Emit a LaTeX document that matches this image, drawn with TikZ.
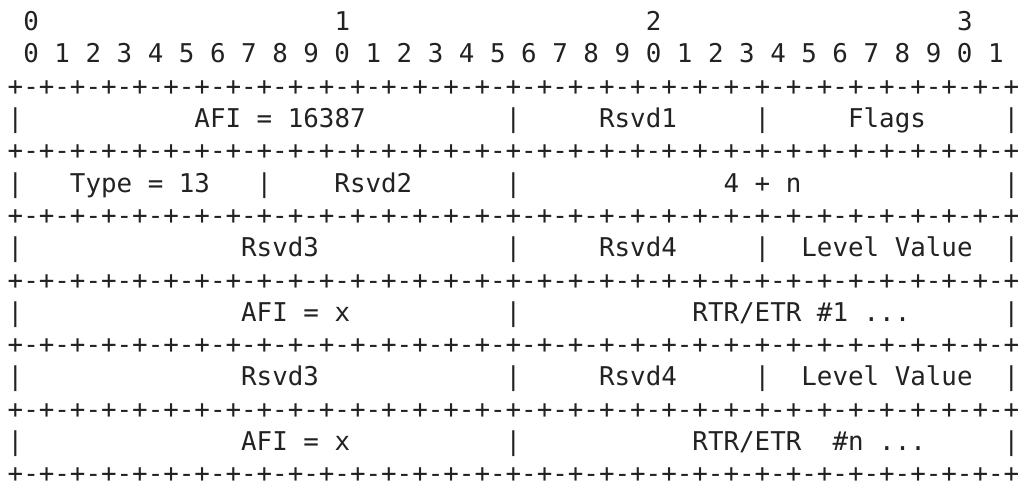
\documentclass[tikz,border=0pt]{standalone}
\usepackage{fontspec}
\newfontfamily\asciifont{DejaVu Sans Mono}
\definecolor{txt}{HTML}{222222}
\newlength\cw
\newcommand\mygap[1]{\hspace*{#1\cw}}
\newcommand\border{+-+-+-+-+-+-+-+-+-+-+-+-+-+-+-+-+-+-+-+-+-+-+-+-+-+-+-+-+-+-+-+-+}
\begin{document}
\begin{tikzpicture}[x=1pt,y=-1pt,
  row/.style={anchor=base west, inner sep=0pt, outer sep=0pt, text=txt,
    font=\asciifont\fontsize{25.85pt}{32pt}\selectfont\settowidth{\cw}{0}}]
\useasboundingbox (0,0) rectangle (1024,485);
\def\bx{7.7}
\def\by{30.6}
\def\ls{32.3}
\node[row] (l0)  at (\bx,\by+0*\ls)  {\mygap{1}0\mygap{19}1\mygap{19}2\mygap{19}3};
\node[row] (l1)  at (\bx,\by+1*\ls)  {\mygap{1}0 1 2 3 4 5 6 7 8 9 0 1 2 3 4 5 6 7 8 9 0 1 2 3 4 5 6 7 8 9 0 1};
\node[row] (l2)  at (\bx,\by+2*\ls)  {\border};
\node[row] (l3)  at (\bx,\by+3*\ls)  {|\mygap{11}AFI = 16387\mygap{9}|\mygap{5}Rsvd1\mygap{5}|\mygap{5}Flags\mygap{5}|};
\node[row] (l4)  at (\bx,\by+4*\ls)  {\border};
\node[row] (l5)  at (\bx,\by+5*\ls)  {|\mygap{3}Type = 13\mygap{3}|\mygap{4}Rsvd2\mygap{6}|\mygap{13}4 + n\mygap{13}|};
\node[row] (l6)  at (\bx,\by+6*\ls)  {\border};
\node[row] (l7)  at (\bx,\by+7*\ls)  {|\mygap{14}Rsvd3\mygap{12}|\mygap{5}Rsvd4\mygap{5}|\mygap{2}Level Value\mygap{2}|};
\node[row] (l8)  at (\bx,\by+8*\ls)  {\border};
\node[row] (l9)  at (\bx,\by+9*\ls)  {|\mygap{14}AFI = x\mygap{10}|\mygap{11}RTR/ETR \#1 ...\mygap{6}|};
\node[row] (l10) at (\bx,\by+10*\ls) {\border};
\node[row] (l11) at (\bx,\by+11*\ls) {|\mygap{14}Rsvd3\mygap{12}|\mygap{5}Rsvd4\mygap{5}|\mygap{2}Level Value\mygap{2}|};
\node[row] (l12) at (\bx,\by+12*\ls) {\border};
\node[row] (l13) at (\bx,\by+13*\ls) {|\mygap{14}AFI = x\mygap{10}|\mygap{11}RTR/ETR\mygap{2}\#n ...\mygap{5}|};
\node[row] (l14) at (\bx,\by+14*\ls) {\border};
\end{tikzpicture}
\end{document}
